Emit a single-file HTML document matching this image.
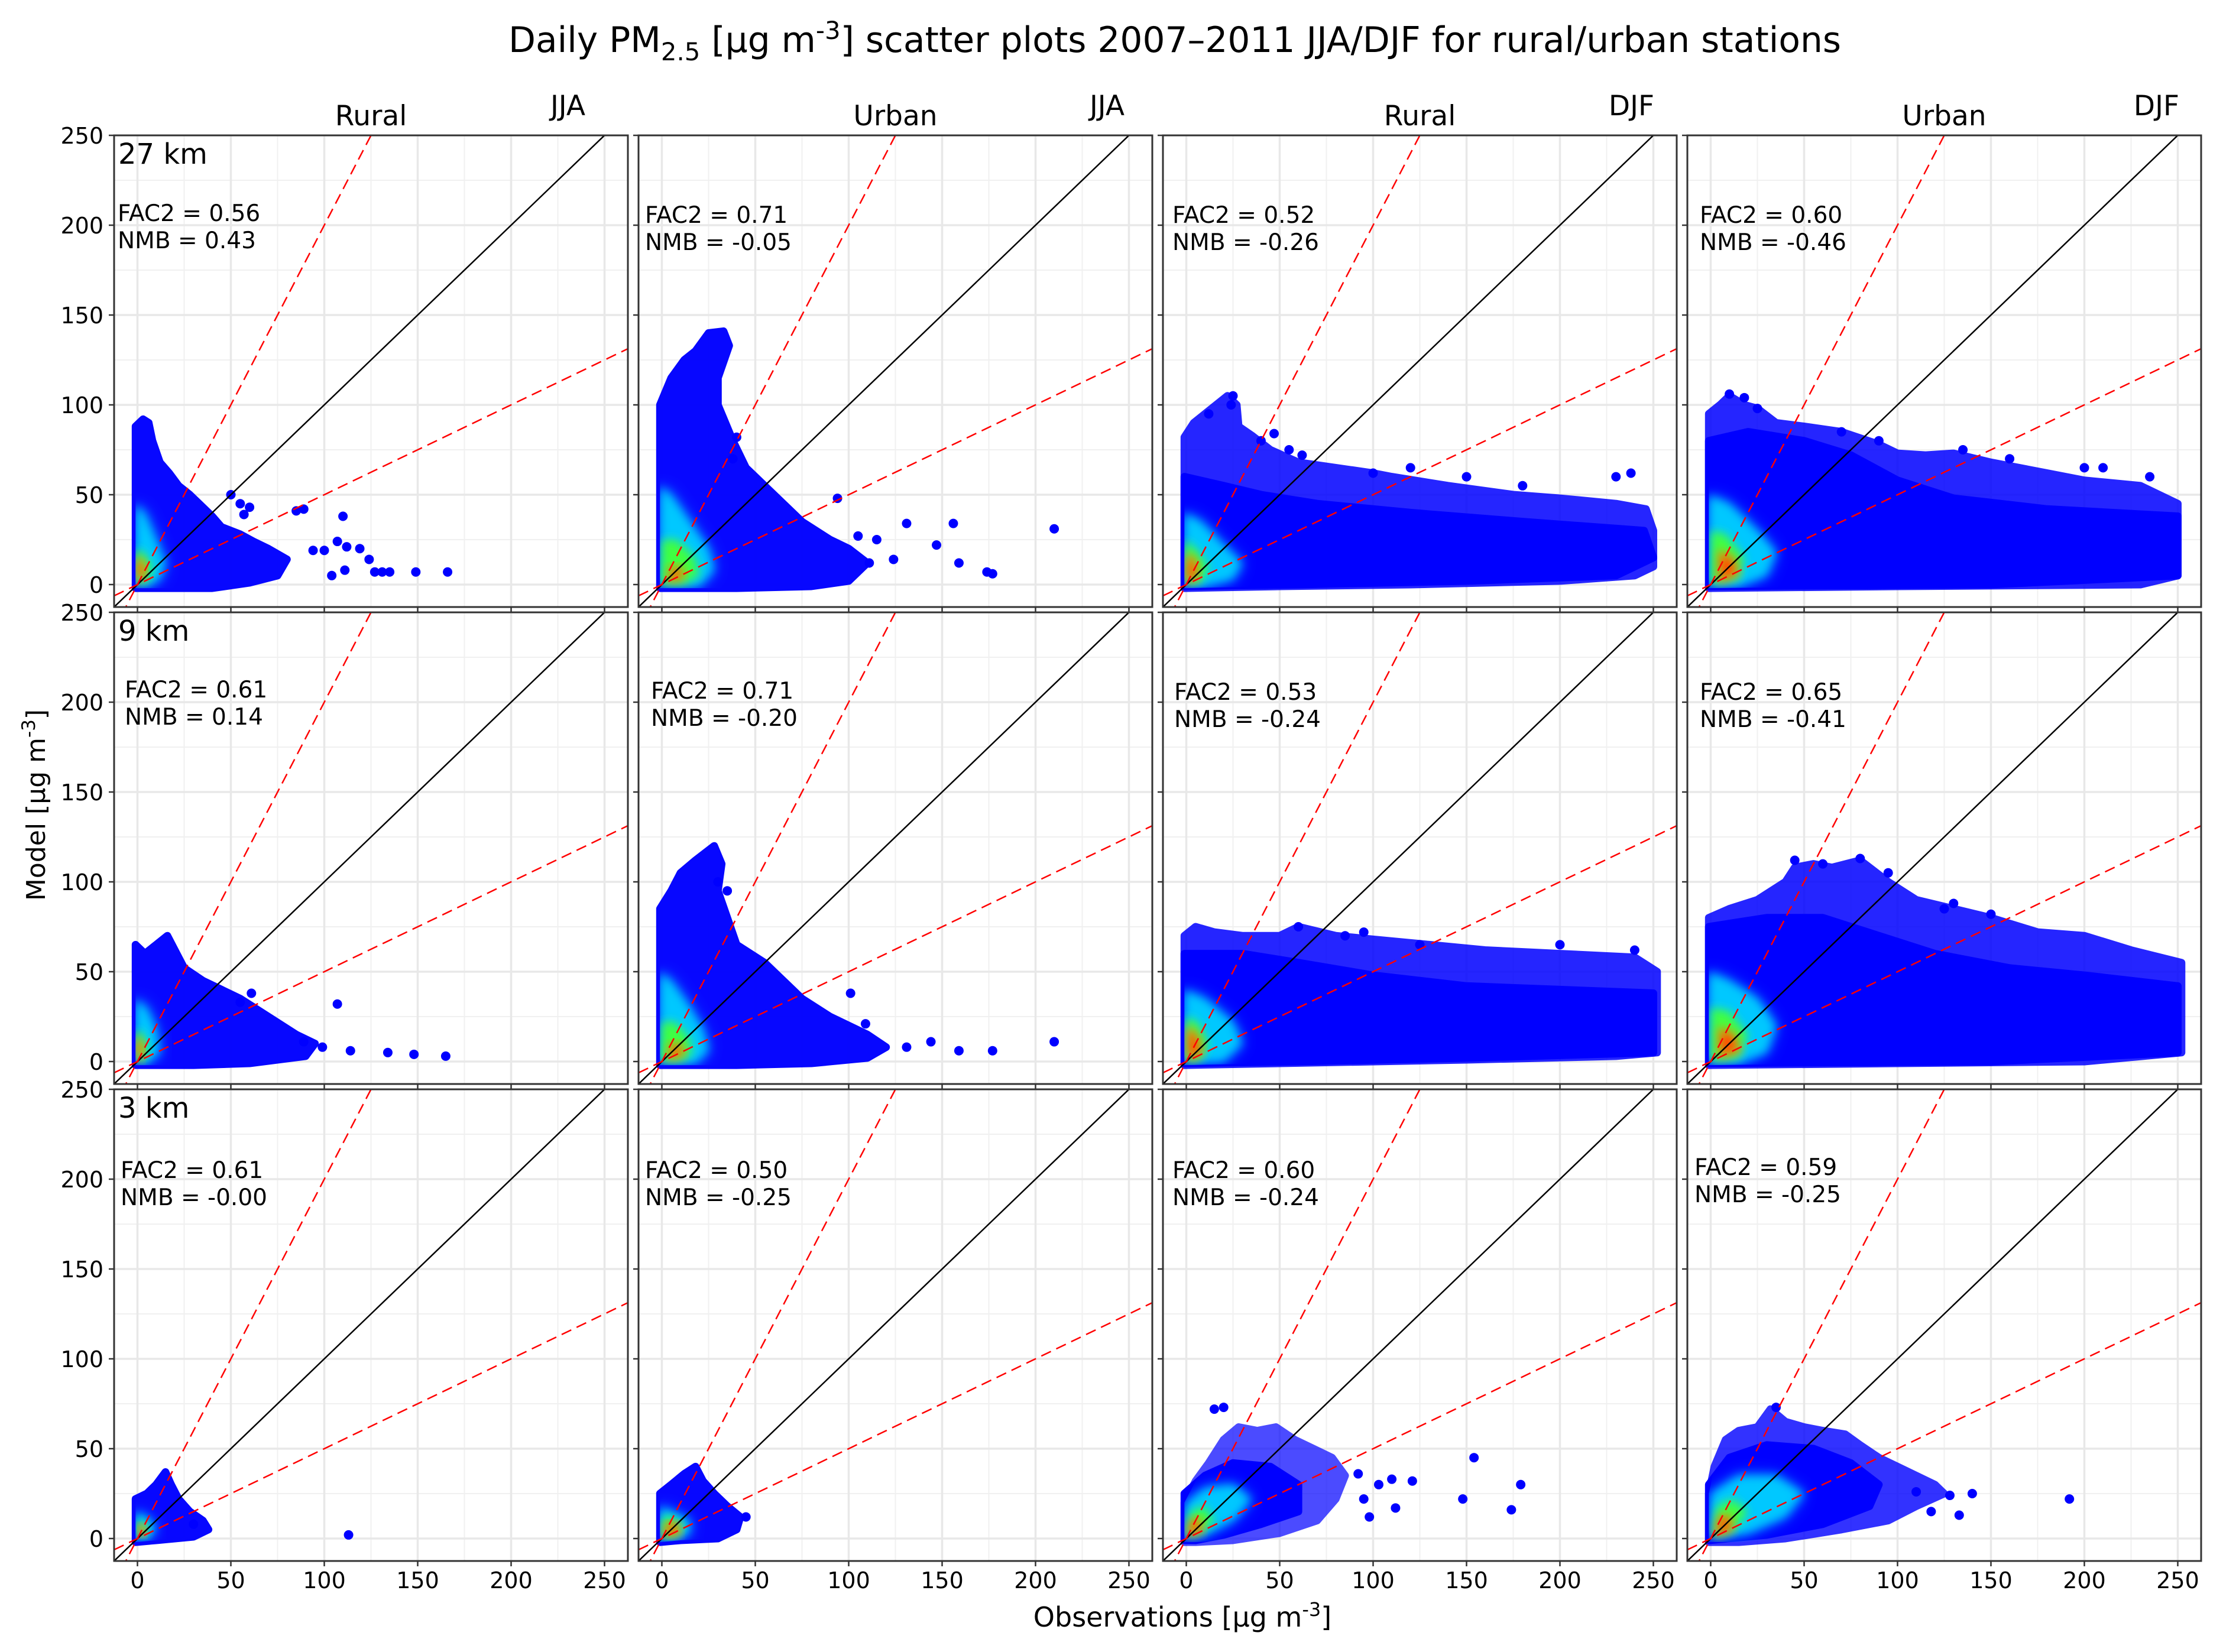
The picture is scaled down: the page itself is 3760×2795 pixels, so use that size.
<!DOCTYPE html>
<html><head><meta charset="utf-8"><title>Daily PM2.5 scatter plots</title>
<style>html,body{margin:0;padding:0;background:#fff}svg{display:block}text{font-family:"DejaVu Sans","Liberation Sans",sans-serif;fill:#000}</style>
</head><body>
<svg id="fig" xmlns="http://www.w3.org/2000/svg" width="3760" height="2795" viewBox="0 0 3760 2795">
<defs>
<filter id="blur1" x="-50%" y="-50%" width="200%" height="200%"><feGaussianBlur stdDeviation="14"/></filter>
<filter id="blur2" x="-50%" y="-50%" width="200%" height="200%"><feGaussianBlur stdDeviation="8"/></filter>
</defs>
<text x="860" y="88" font-size="60" textLength="2254" lengthAdjust="spacingAndGlyphs">Daily PM<tspan font-size="42" dy="14">2.5</tspan><tspan dy="-14"> [μg m</tspan><tspan font-size="42" dy="-22">-3</tspan><tspan dy="22">] scatter plots 2007–2011 JJA/DJF for rural/urban stations</tspan></text>
<text x="2000" y="2752" font-size="46" text-anchor="middle">Observations [μg m<tspan font-size="32" dy="-18">-3</tspan><tspan dy="18">]</tspan></text>
<text transform="translate(76,1362) rotate(-90)" font-size="44" text-anchor="middle">Model [μg m<tspan font-size="31" dy="-17">-3</tspan><tspan dy="17">]</tspan></text>
<g id="panels"></g>
</svg>
<script>
const xTicks = [0, 50, 100, 150, 200, 250];
const yTicks = [0, 50, 100, 150, 200, 250];
const minorTicks = [25, 75, 125, 175, 225];
const colTitles = ["Rural", "Urban", "Rural", "Urban"];
const seasons = ["JJA", "JJA", "DJF", "DJF"];
const resolutions = ["27 km", "9 km", "3 km"];
const fac2 = ["0.56","0.71","0.52","0.60","0.61","0.71","0.53","0.65","0.61","0.50","0.60","0.59"];
const nmb = ["0.43","-0.05","-0.26","-0.46","0.14","-0.20","-0.24","-0.41","-0.00","-0.25","-0.24","-0.25"];

const hulls = [
 [[-1,-2],[-1,88],[3,92],[6,90],[8,80],[12,68],[17,62],[22,55],[28,50],[33,45],[40,38],[45,32],[55,28],[62,24],[70,20],[80,14],[75,5],[60,1],[40,-2]],
 [[-1,-2],[-1,100],[5,115],[12,125],[18,130],[25,140],[33,141],[36,133],[30,115],[30,100],[38,80],[45,65],[55,55],[65,45],[75,35],[90,25],[100,20],[110,12],[100,2],[80,-1],[40,-2]],
 [[-1,-2],[-1,82],[4,90],[10,95],[22,105],[27,100],[28,88],[35,83],[45,75],[60,68],[80,65],[100,62],[110,60],[140,55],[175,50],[200,48],[230,45],[246,42],[250,30],[250,10],[240,5],[200,2],[120,0],[50,-1]],
 [[-1,-2],[-1,95],[5,100],[10,105],[18,100],[25,98],[35,90],[50,88],[70,85],[90,78],[100,73],[115,72],[130,73],[150,68],[180,62],[200,58],[230,55],[250,45],[250,5],[230,0],[100,-1]],
 [[-1,-2],[-1,65],[4,60],[10,65],[16,70],[20,62],[25,52],[35,45],[45,40],[55,35],[70,25],[85,15],[95,10],[90,3],[60,-1],[30,-2]],
 [[-1,-2],[-1,85],[5,95],[10,105],[18,112],[28,120],[32,110],[30,95],[35,80],[40,65],[55,55],[65,45],[75,35],[90,25],[110,15],[120,8],[110,2],[80,-1],[40,-2]],
 [[-1,-2],[-1,70],[5,75],[15,72],[30,70],[50,70],[60,75],[80,70],[100,68],[130,65],[160,62],[200,60],[240,58],[252,50],[252,5],[230,3],[150,1],[50,-1]],
 [[-1,-2],[-1,80],[10,85],[25,90],[40,100],[45,108],[55,110],[65,108],[80,112],[95,100],[110,90],[130,85],[150,80],[175,72],[200,70],[225,62],[252,55],[252,5],[200,0],[100,-1]],
 [[-1,-2],[-1,22],[5,25],[10,30],[15,37],[18,30],[22,22],[28,15],[35,10],[38,5],[30,1],[10,-1]],
 [[-1,-2],[-1,25],[5,30],[12,36],[18,40],[22,32],[28,25],[35,18],[42,12],[40,5],[30,0],[10,-1]],
 [[-1,-2],[-1,20],[5,32],[12,42],[20,55],[28,62],[38,60],[48,62],[58,55],[68,50],[78,45],[85,35],[80,22],[70,10],[50,3],[25,-1],[5,-2]],
 [[-1,-2],[-1,25],[2,40],[8,55],[15,60],[25,62],[32,72],[40,65],[50,62],[60,60],[72,58],[80,52],[90,45],[100,40],[110,35],[120,30],[125,25],[110,18],[95,10],[70,5],[40,0],[15,-2]]
];
const denses = [
 null, null,
 [[-1,-1],[-1,60],[20,55],[40,50],[70,45],[120,40],[180,35],[245,30],[250,15],[230,5],[150,2],[60,0]],
 [[-1,-1],[-1,80],[20,85],[50,80],[75,72],[100,58],[130,48],[180,42],[250,38],[250,5],[150,0]],
 null, null,
 [[-1,-1],[-1,60],[30,60],[60,55],[100,48],[150,42],[200,40],[250,38],[250,5],[150,2],[60,0]],
 [[-1,-1],[-1,75],[30,80],[60,80],[90,70],[120,60],[160,52],[200,48],[250,42],[250,5],[150,0]],
 null, null,
 [[-1,-1],[-1,25],[10,35],[25,42],[45,40],[60,30],[60,15],[40,8],[20,2],[5,-1]],
 [[-1,-1],[-1,30],[10,45],[30,52],[55,50],[75,42],[90,30],[85,18],[60,8],[30,2]]
];
const cyans = [
 [[-1,-1],[-1,45],[4,40],[10,25],[15,12],[12,3],[5,-1]],
 [[-1,-1],[-1,55],[5,50],[15,35],[25,20],[28,8],[20,-1]],
 [[-1,-1],[-1,40],[8,35],[20,22],[30,12],[25,3],[10,-1]],
 [[-1,-1],[-1,50],[10,45],[25,30],[35,18],[30,5],[15,-1]],
 [[-1,-1],[-1,35],[5,30],[10,18],[12,5],[5,-1]],
 [[-1,-1],[-1,50],[5,45],[14,32],[22,18],[25,6],[18,-1]],
 [[-1,-1],[-1,40],[10,35],[25,22],[30,10],[20,0]],
 [[-1,-1],[-1,50],[10,45],[25,35],[35,20],[30,5],[15,-1]],
 [[-1,-1],[-1,15],[5,12],[10,6],[6,0]],
 [[-1,-1],[-1,18],[5,15],[15,10],[15,3],[8,0]],
 [[-1,0],[0,20],[10,28],[25,30],[35,22],[25,10],[10,2]],
 [[0,0],[0,25],[15,35],[35,35],[50,25],[40,12],[20,3]]
];
const greens = [
 [[-1,0],[-1,20],[3,18],[8,10],[6,2]],
 [[-1,0],[0,25],[8,25],[18,15],[20,5],[12,0]],
 [[-1,0],[-1,25],[5,20],[12,10],[8,1]],
 [[0,0],[0,30],[8,28],[18,15],[15,3]],
 [[-1,0],[-1,18],[3,15],[6,6],[3,0]],
 [[-1,0],[0,22],[7,22],[15,13],[16,4],[10,0]],
 [[-1,0],[0,25],[6,22],[12,10],[8,1]],
 [[0,0],[0,30],[10,28],[20,15],[15,2]],
 [[0,1],[0,10],[4,9],[6,3]],
 [[0,0],[0,12],[6,12],[12,6],[8,1]],
 [[0,1],[2,15],[10,18],[15,10],[8,3]],
 [[1,1],[3,18],[12,22],[20,15],[12,4]]
];
const reds = [
 [[0,3],[0,14],[3,12],[4,5]],
 [[4,2],[5,9],[10,9],[11,4]],
 [[0,3],[1,16],[4,14],[6,6],[3,2]],
 [[5,2],[5,18],[12,14],[14,6]],
 [[0,2],[0,12],[2,10],[3,4]],
 [[4,2],[5,9],[10,9],[11,4]],
 [[1,3],[1,18],[5,15],[8,6],[4,2]],
 [[5,3],[5,18],[12,15],[15,6]],
 [[1,2],[1,7],[3,6],[4,3]],
 [[2,2],[3,8],[8,8],[9,3]],
 [[1,2],[3,10],[7,10],[8,4]],
 [[3,2],[5,12],[10,12],[11,5]]
];
const outliers = [
 [[89,42],[85,41],[110,38],[119,20],[112,21],[107,24],[100,19],[94,19],[104,5],[111,8],[124,14],[127,7],[131,7],[135,7],[149,7],[166,7],[60,43],[55,45],[57,39],[50,50]],
 [[210,31],[159,12],[156,34],[177,6],[174,7],[147,22],[131,34],[124,14],[94,48],[105,27],[115,25],[111,12],[40,82],[38,70]],
 [[25,105],[24,100],[12,95],[47,84],[40,80],[55,75],[62,72],[100,62],[120,65],[150,60],[230,60],[238,62],[180,55]],
 [[10,106],[18,104],[25,98],[70,85],[90,80],[135,75],[160,70],[200,65],[210,65],[235,60]],
 [[107,32],[114,6],[148,4],[165,3],[134,5],[99,8],[89,11],[61,38],[55,33]],
 [[210,11],[177,6],[159,6],[144,11],[131,8],[109,21],[101,38],[35,95],[30,100]],
 [[60,75],[85,70],[95,72],[125,65],[200,65],[240,62]],
 [[45,112],[60,110],[80,113],[95,105],[125,85],[130,88],[150,82]],
 [[113,2],[30,8]],
 [[45,12]],
 [[154,45],[179,30],[174,16],[148,22],[121,32],[110,33],[112,17],[103,30],[20,73],[15,72],[95,22],[92,36],[98,12]],
 [[192,22],[140,25],[133,13],[118,15],[128,24],[110,26],[35,73]]
];

// ---- layout ----
const NS = "http://www.w3.org/2000/svg";
const PW = 869, PH = 798, X0 = 193, Y0 = 229, DX = 887, DY = 807;
const XMIN = -12.5, XMAX = 262.5, YMIN = -12.5, YMAX = 250;
const fac2X = [[199,1091,1983,2875],[211,1101,1986,2875],[204,1091,1983,2866]];
const fac2Y = [[374,377,377,377],[1180,1182,1184,1184],[1993,1993,1993,1988]];
const seasonX = [990, 1902, 2798, 3686];
const hullAlpha = [0.97, 0.97, 0.85, 0.85, 0.97, 0.97, 0.85, 0.85, 0.97, 0.97, 0.7, 0.8];
const root = document.getElementById('panels');

function mk(tag, attrs, parent) {
  const e = document.createElementNS(NS, tag);
  for (const k in attrs) e.setAttribute(k, attrs[k]);
  parent.appendChild(e);
  return e;
}
function xs(c, v) { return X0 + c * DX + (v - XMIN) / (XMAX - XMIN) * PW; }
function ys(r, v) { return Y0 + r * DY + (YMAX - v) / (YMAX - YMIN) * PH; }
function pts(r, c, arr) { return arr.map(p => xs(c, p[0]).toFixed(1) + ',' + ys(r, p[1]).toFixed(1)).join(' '); }

for (let r = 0; r < 3; r++) {
  for (let c = 0; c < 4; c++) {
    const i = r * 4 + c;
    const L = X0 + c * DX, T = Y0 + r * DY;
    const g = mk('g', {}, root);
    
    
    const cp = mk('clipPath', {id: 'clip' + i}, g);
    mk('rect', {x: L, y: T, width: PW, height: PH}, cp);
    const inner = mk('g', {'clip-path': 'url(#clip' + i + ')'}, g);
    minorTicks.forEach(v => {
      const a = mk('line', {x1: xs(c, v), x2: xs(c, v), y1: T, y2: T + PH, stroke: '#f0f0f0', 'stroke-width': 2}, inner);
      
      
      const b = mk('line', {x1: L, x2: L + PW, y1: ys(r, v), y2: ys(r, v), stroke: '#f0f0f0', 'stroke-width': 2}, inner);
      
      
    });
    xTicks.forEach(v => {
      const a = mk('line', {x1: xs(c, v), x2: xs(c, v), y1: T, y2: T + PH, stroke: '#e8e8e8', 'stroke-width': 3.5}, inner);
      
      
    });
    yTicks.forEach(v => {
      const b = mk('line', {x1: L, x2: L + PW, y1: ys(r, v), y2: ys(r, v), stroke: '#e8e8e8', 'stroke-width': 3.5}, inner);
      
      
    });
    const cloud = mk('g', {}, inner);
    
    
    const hp = pts(r, c, hulls[i]);
    const h = mk('polygon', {points: hp, fill: '#0000ff', stroke: '#0000ff', 'stroke-width': 13, 'stroke-linejoin': 'round', opacity: hullAlpha[i]}, cloud);
    
    
    const dcp = mk('clipPath', {id: 'dclip' + i}, g);
    mk('polygon', {points: hp, stroke: '#000', 'stroke-width': 13, 'stroke-linejoin': 'round'}, dcp);
    if (denses[i]) {
      const d = mk('polygon', {points: pts(r, c, denses[i]), fill: '#0000ff', stroke: '#0000ff', 'stroke-width': 13, 'stroke-linejoin': 'round'}, cloud);
      
      
    }
    const dens = mk('g', {'clip-path': 'url(#dclip' + i + ')'}, cloud);
    const m = mk('polygon', {points: pts(r, c, cyans[i]), fill: '#0070ff', filter: 'url(#blur1)'}, dens);
    
    
    const cy = mk('polygon', {points: pts(r, c, cyans[i]), fill: '#00c8ff', filter: 'url(#blur2)'}, dens);
    
    
    const gr = mk('polygon', {points: pts(r, c, greens[i]), fill: '#40ff40', filter: 'url(#blur2)'}, dens);
    
    
    const rd = mk('polygon', {points: pts(r, c, reds[i]), fill: '#ff3a00', stroke: '#ff8800', 'stroke-width': 6, filter: 'url(#blur2)'}, dens);
    
    
    outliers[i].forEach(p => {
      const o = mk('circle', {cx: xs(c, p[0]), cy: ys(r, p[1]), r: 8, fill: '#0000ff'}, cloud);
      
      
    });
    const l1 = mk('line', {x1: xs(c, XMIN), y1: ys(r, XMIN), x2: xs(c, XMAX), y2: ys(r, XMAX), stroke: '#000', 'stroke-width': 2.5}, inner);
    
    
    const l2 = mk('line', {x1: xs(c, XMIN), y1: ys(r, 2 * XMIN), x2: xs(c, YMAX / 2), y2: ys(r, YMAX), stroke: '#ff0000', 'stroke-width': 2.5, 'stroke-dasharray': '18 10'}, inner);
    
    
    const l3 = mk('line', {x1: xs(c, XMIN), y1: ys(r, XMIN / 2), x2: xs(c, XMAX), y2: ys(r, XMAX / 2), stroke: '#ff0000', 'stroke-width': 2.5, 'stroke-dasharray': '18 10'}, inner);
    
    
    const f = mk('rect', {x: L, y: T, width: PW, height: PH, fill: 'none', stroke: '#333', 'stroke-width': 3}, g);
    
    
    yTicks.forEach(v => {
      const t = mk('line', {x1: L - 9, x2: L, y1: ys(r, v), y2: ys(r, v), stroke: '#333', 'stroke-width': 2.5}, g);
      
      
      if (c === 0) {
        const tl = mk('text', {x: L - 18, y: ys(r, v) + 14, 'font-size': 38, 'text-anchor': 'end'}, g);
        tl.textContent = v;
        
        
      }
    });
    xTicks.forEach(v => {
      const t = mk('line', {x1: xs(c, v), x2: xs(c, v), y1: T + PH, y2: T + PH + 9, stroke: '#333', 'stroke-width': 2.5}, g);
      
      
      if (r === 2) {
        const tl = mk('text', {x: xs(c, v), y: 2687, 'font-size': 38, 'text-anchor': 'middle'}, g);
        tl.textContent = v;
        
        
      }
    });
    const a1 = mk('text', {x: fac2X[r][c], y: fac2Y[r][c], 'font-size': 39}, g);
    a1.textContent = 'FAC2 = ' + fac2[i];
    
    
    const a2 = mk('text', {x: fac2X[r][c], y: fac2Y[r][c] + 46, 'font-size': 39}, g);
    a2.textContent = 'NMB = ' + nmb[i];
    
    
    if (c === 0) {
      const k = mk('text', {x: 200, y: T + 48, 'font-size': 48}, g);
      k.textContent = resolutions[r];
      
      
    }
    if (r === 0) {
      const ct = mk('text', {x: L + PW / 2, y: 212, 'font-size': 47, 'text-anchor': 'middle'}, g);
      ct.textContent = colTitles[c];
      
      
      const st = mk('text', {x: seasonX[c], y: 195, 'font-size': 47, 'text-anchor': 'end'}, g);
      st.textContent = seasons[c];
      
      
    }
  }
}
</script>
</body></html>
